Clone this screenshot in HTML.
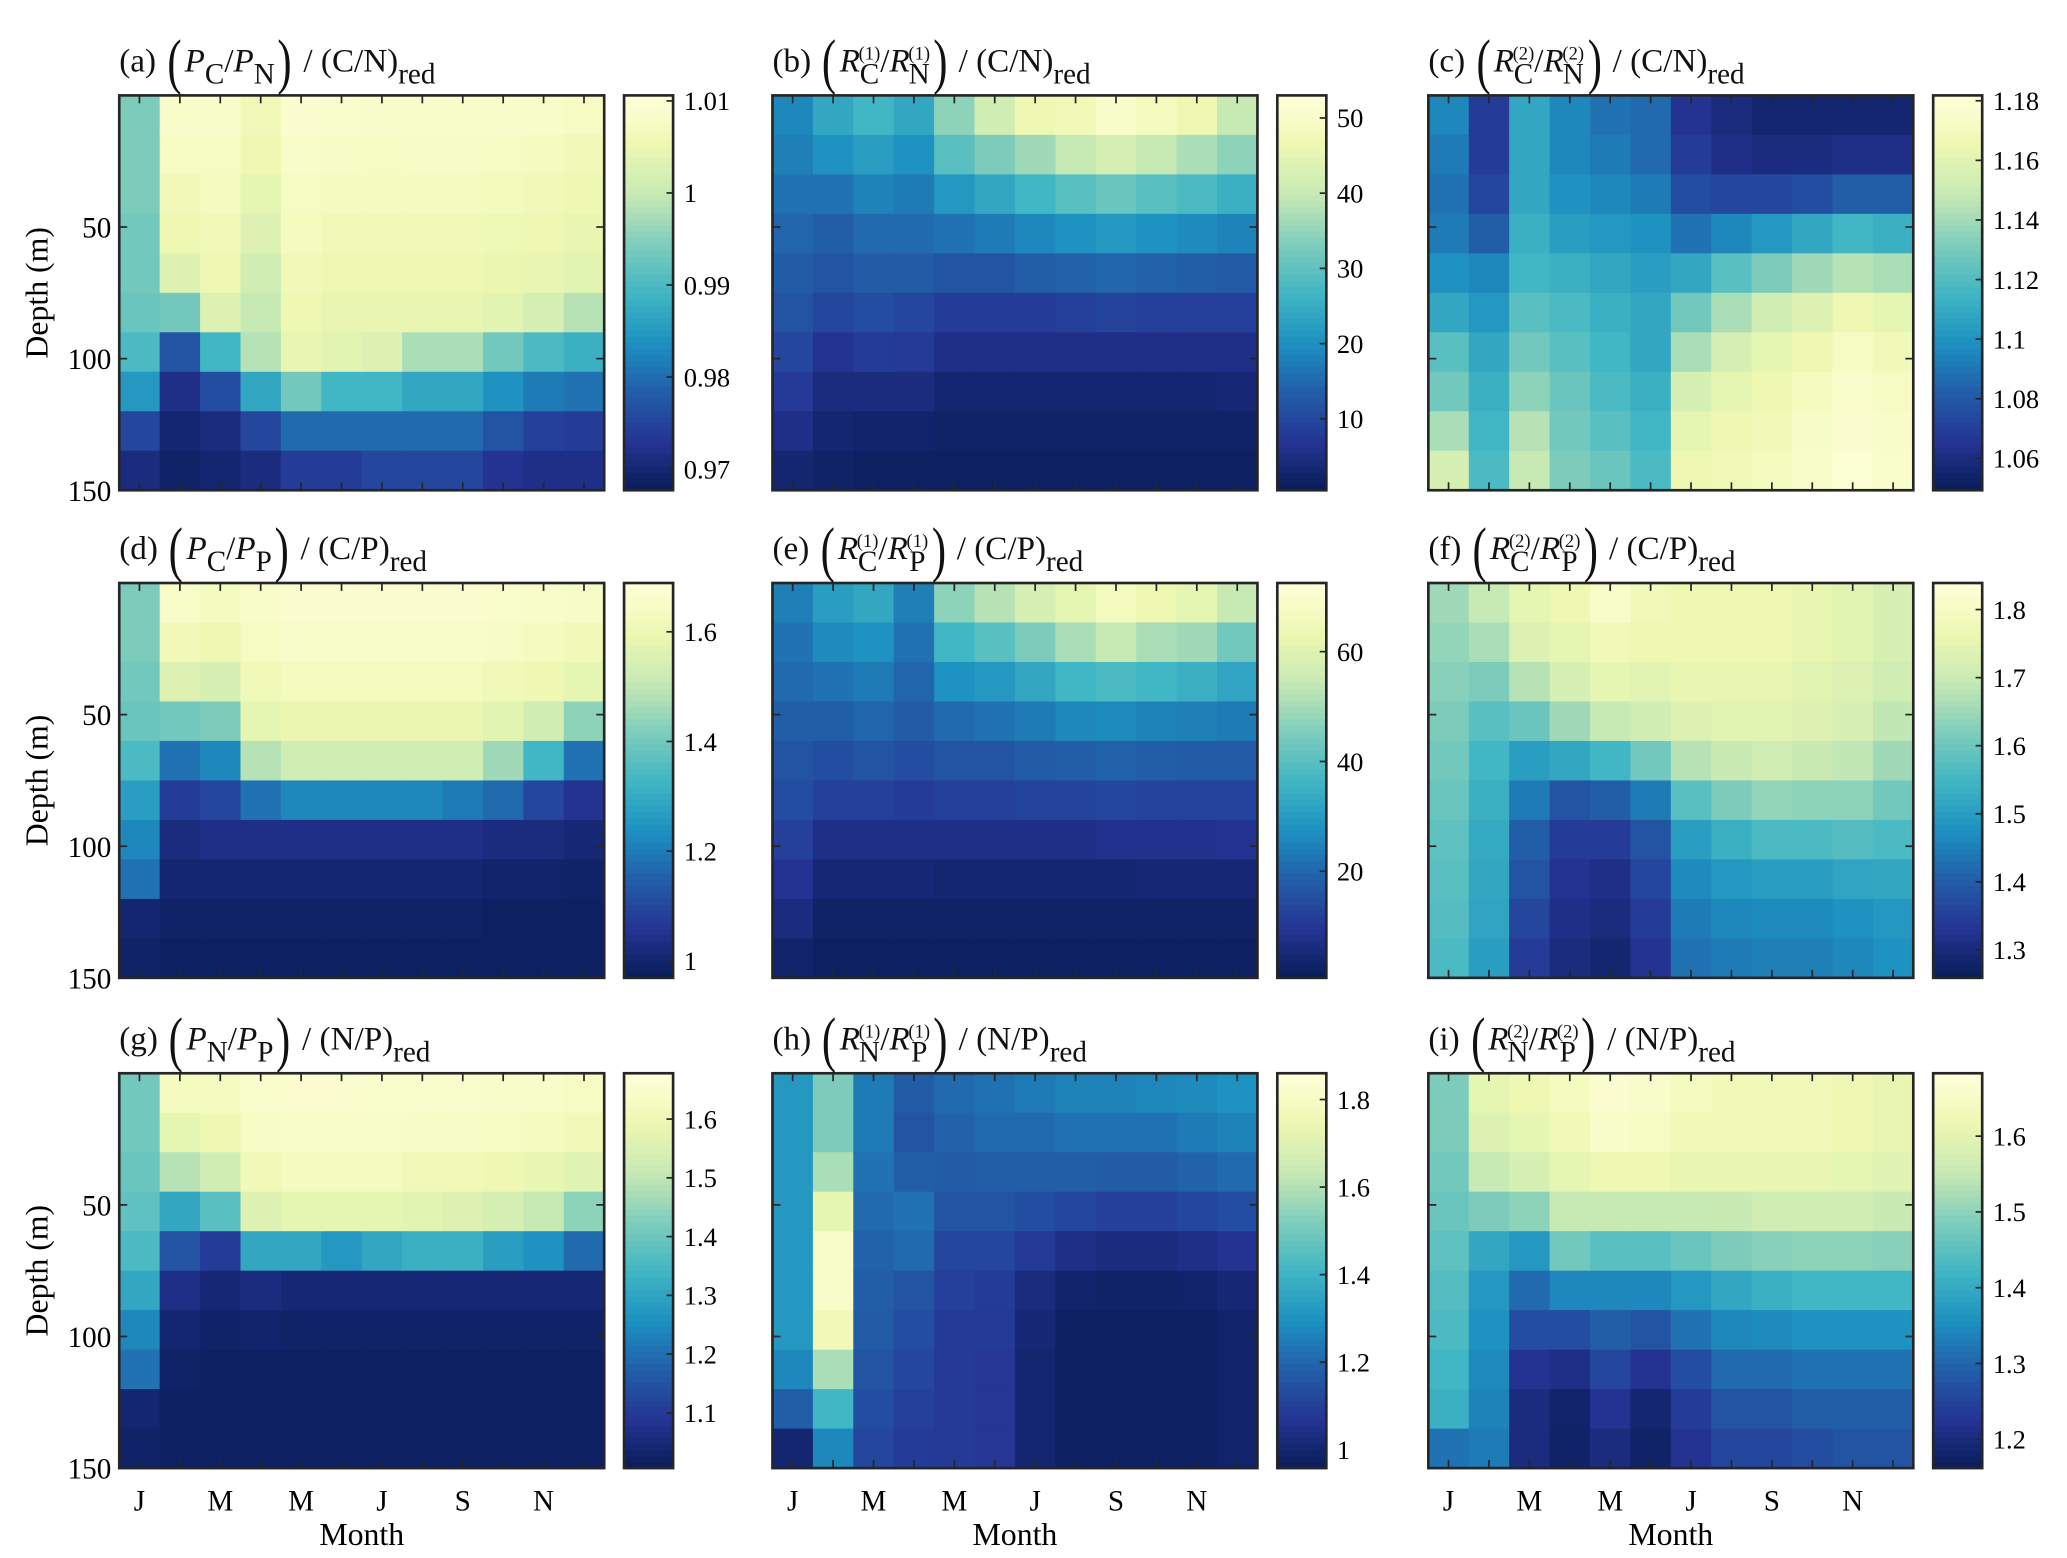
<!DOCTYPE html>
<html><head><meta charset="utf-8">
<style>
html,body{margin:0;padding:0;background:#fff;}
#stage{position:relative;width:1560px;height:1176px;transform:scale(1.325);transform-origin:0 0;font-family:"Liberation Serif",serif;color:#111;}
svg{position:absolute;left:0;top:0;}
.title{position:absolute;font-size:25px;white-space:nowrap;line-height:1;}
.big{font-size:46px;display:inline-block;transform:scaleX(0.7);vertical-align:-8px;}
.it{font-style:italic;}
.sb{font-size:22px;vertical-align:-9px;}
.stk{display:inline-block;vertical-align:-9px;line-height:1;margin-left:-1px;text-align:center;}
.stk .u{display:block;font-size:14px;line-height:15px;margin-bottom:-4px;}
.stk .d{display:block;font-size:22px;line-height:22px;}
</style></head>
<body>
<div id="stage">
<svg id="svg" width="1560" height="1176" viewBox="0 0 1560 1176"></svg>

<div class="title" style="left:90px;top:24px">(a) <span class="big">(</span><span class="it">P</span><span class="sb">C</span>/<span class="it">P</span><span class="sb">N</span><span class="big">)</span> / (C/N)<span class="sb">red</span></div>
<div class="title" style="left:583px;top:24px">(b) <span class="big">(</span><span class="it">R</span><span class="stk"><span class="u">(1)</span><span class="d">C</span></span>/<span class="it">R</span><span class="stk"><span class="u">(1)</span><span class="d">N</span></span><span class="big">)</span> / (C/N)<span class="sb">red</span></div>
<div class="title" style="left:1078px;top:24px">(c) <span class="big">(</span><span class="it">R</span><span class="stk"><span class="u">(2)</span><span class="d">C</span></span>/<span class="it">R</span><span class="stk"><span class="u">(2)</span><span class="d">N</span></span><span class="big">)</span> / (C/N)<span class="sb">red</span></div>

<div class="title" style="left:90px;top:392px">(d) <span class="big">(</span><span class="it">P</span><span class="sb">C</span>/<span class="it">P</span><span class="sb">P</span><span class="big">)</span> / (C/P)<span class="sb">red</span></div>
<div class="title" style="left:583px;top:392px">(e) <span class="big">(</span><span class="it">R</span><span class="stk"><span class="u">(1)</span><span class="d">C</span></span>/<span class="it">R</span><span class="stk"><span class="u">(1)</span><span class="d">P</span></span><span class="big">)</span> / (C/P)<span class="sb">red</span></div>
<div class="title" style="left:1078px;top:392px">(f) <span class="big">(</span><span class="it">R</span><span class="stk"><span class="u">(2)</span><span class="d">C</span></span>/<span class="it">R</span><span class="stk"><span class="u">(2)</span><span class="d">P</span></span><span class="big">)</span> / (C/P)<span class="sb">red</span></div>

<div class="title" style="left:90px;top:762px">(g) <span class="big">(</span><span class="it">P</span><span class="sb">N</span>/<span class="it">P</span><span class="sb">P</span><span class="big">)</span> / (N/P)<span class="sb">red</span></div>
<div class="title" style="left:583px;top:762px">(h) <span class="big">(</span><span class="it">R</span><span class="stk"><span class="u">(1)</span><span class="d">N</span></span>/<span class="it">R</span><span class="stk"><span class="u">(1)</span><span class="d">P</span></span><span class="big">)</span> / (N/P)<span class="sb">red</span></div>
<div class="title" style="left:1078px;top:762px">(i) <span class="big">(</span><span class="it">R</span><span class="stk"><span class="u">(2)</span><span class="d">N</span></span>/<span class="it">R</span><span class="stk"><span class="u">(2)</span><span class="d">P</span></span><span class="big">)</span> / (N/P)<span class="sb">red</span></div>
</div>

<script>
// Data: level (0-100 of colorbar range) per month column, depth rows top->bottom (15 m bins)
const months = ["J","F","M","A","M","J","J","A","S","O","N","D"];
const monthLabels = ["J","","M","","M","","J","","S","","N",""];
const depthTicks = [50,100,150];
const depthMax = 150;

const dataA = [
[62,62,62,60,60,58,52,40,18,8],[95,93,90,88,82,60,22,10,5,3],[95,93,92,90,88,82,50,20,8,5],
[90,88,85,82,78,75,72,45,18,8],[97,95,93,92,90,88,86,60,28,15],[96,94,92,90,88,86,84,50,28,15],
[95,93,92,90,88,86,82,50,28,18],[95,94,92,90,88,86,70,45,28,18],[95,94,92,90,88,86,70,45,28,18],
[95,93,91,89,87,84,60,38,22,12],[95,92,90,88,86,80,52,32,16,10],[93,90,88,86,84,72,48,30,15,10]];
const dataB = [
[35,33,30,27,24,22,18,14,10,5],[45,38,30,25,22,18,12,8,5,3],[50,42,34,28,24,20,15,8,4,2],
[45,38,32,28,24,18,14,8,4,2],[65,55,40,30,22,15,10,5,3,2],[78,62,45,32,22,15,10,5,3,2],
[88,68,50,35,25,15,10,5,3,2],[90,75,55,38,26,16,10,5,3,2],[95,80,58,40,27,17,10,5,3,2],
[92,75,55,38,26,16,10,5,3,2],[88,70,52,36,25,16,10,5,3,2],[75,65,48,34,24,16,10,6,3,2]];
const dataC = [
[35,32,30,32,38,45,55,60,70,80],[15,15,18,25,35,40,45,48,50,52],[45,45,45,48,50,55,60,65,72,75],
[35,35,38,42,48,52,55,58,60,62],[30,32,35,40,45,48,50,52,55,58],[28,28,32,38,42,45,45,48,50,52],
[12,15,20,30,45,60,70,80,85,88],[8,10,18,35,55,70,80,85,88,90],[5,8,18,40,62,78,85,88,90,92],
[5,8,20,45,68,82,88,92,94,95],[5,10,25,50,72,88,93,96,97,98],[5,10,25,48,70,85,90,93,95,96]];
const dataD = [
[62,62,60,58,52,42,35,30,5,3],[95,90,82,60,30,15,8,5,3,2],[92,88,80,62,35,18,10,5,3,2],
[95,93,90,85,72,30,10,5,3,2],[97,95,92,87,78,35,10,5,3,2],[97,95,92,87,78,35,10,5,3,2],
[97,95,92,87,78,35,10,5,3,2],[97,95,92,87,78,35,10,5,3,2],[97,95,92,87,78,32,10,5,3,2],
[96,94,90,84,68,28,8,4,2,2],[95,92,88,78,50,18,8,4,2,2],[94,90,85,65,30,12,6,3,2,2]];
const dataE = [
[33,30,28,25,22,20,16,12,8,4],[42,36,30,25,20,16,10,6,3,2],[45,38,32,27,22,16,10,6,3,2],
[33,30,27,24,20,15,10,6,3,2],[65,50,38,28,22,16,10,5,3,2],[72,55,40,30,22,16,10,5,3,2],
[80,62,45,32,24,17,10,5,3,2],[85,70,50,35,25,17,10,5,3,2],[92,75,52,36,26,18,11,5,3,2],
[88,70,50,34,25,17,11,6,3,2],[85,68,48,33,24,17,11,6,3,2],[75,60,44,32,24,17,12,6,3,2]];
const dataF = [
[68,66,64,62,60,58,56,55,54,52],[75,70,62,55,50,48,46,45,44,42],[85,82,72,58,42,32,25,22,18,15],
[88,85,80,68,45,22,15,12,10,8],[95,90,85,75,50,25,15,10,8,5],[90,88,84,78,60,32,22,18,15,12],
[88,88,86,82,72,55,42,36,32,30],[88,88,86,84,76,62,48,40,35,32],[88,88,86,84,78,66,52,42,36,33],
[86,86,84,82,76,65,52,42,36,33],[84,84,82,80,74,65,54,44,38,35],[80,80,78,74,68,60,52,45,40,38]];
const dataG = [
[60,60,58,56,52,45,35,30,5,3],[92,85,72,45,22,10,5,3,2,2],[92,88,78,55,15,6,3,2,2,2],
[96,94,90,82,45,8,4,2,2,2],[97,95,92,85,45,6,3,2,2,2],[97,95,92,85,40,6,3,2,2,2],
[96,95,92,85,45,6,3,2,2,2],[96,94,90,84,48,6,3,2,2,2],[96,94,90,82,48,6,3,2,2,2],
[95,93,88,80,42,6,3,2,2,2],[95,92,86,75,38,6,3,2,2,2],[93,90,83,65,28,6,3,2,2,2]];
const dataH = [
[40,40,40,40,40,40,40,35,25,5],[62,62,70,85,95,95,90,70,50,35],[32,32,30,28,26,25,24,22,20,18],
[24,22,25,30,28,22,20,18,16,15],[28,26,24,22,18,16,14,14,14,14],[30,28,25,22,18,15,14,13,13,13],
[32,28,25,20,14,8,6,5,5,5],[34,30,25,18,10,4,2,2,2,2],[34,30,24,16,8,3,2,2,2,2],
[35,30,24,16,8,3,2,2,2,2],[36,32,26,18,10,4,2,2,2,2],[38,34,28,20,12,6,4,4,4,4]];
const dataI = [
[62,62,60,58,56,54,52,50,48,30],[85,82,75,62,45,40,38,36,34,32],[88,85,80,65,40,28,20,12,8,8],
[92,90,85,75,60,35,20,10,4,3],[97,95,88,75,55,35,25,18,12,8],[95,93,88,75,55,35,22,12,5,3],
[92,90,86,75,58,40,30,20,15,12],[90,90,86,76,62,45,35,28,22,18],[90,90,86,78,64,48,36,28,22,18],
[90,90,86,78,65,50,38,30,25,20],[88,88,85,78,65,50,38,30,25,22],[86,86,83,76,64,50,38,30,25,22]];

// colorbar ranges and tick labels
const ranges = [[0.9677,1.0106],[0.5,53],[1.0493,1.1818],[0.969,1.689],[0.6,72.5],[1.259,1.839],[1.006,1.678],[0.958,1.86],[1.162,1.683]];
const cbTicksA=[1.01,1,0.99,0.98,0.97], cbLabelsA=["1.01","1","0.99","0.98","0.97"];
const cbTicksB=[50,40,30,20,10], cbLabelsB=["50","40","30","20","10"];
const cbTicksC=[1.18,1.16,1.14,1.12,1.1,1.08,1.06], cbLabelsC=["1.18","1.16","1.14","1.12","1.1","1.08","1.06"];
const cbTicksD=[1.6,1.4,1.2,1], cbLabelsD=["1.6","1.4","1.2","1"];
const cbTicksE=[60,40,20], cbLabelsE=["60","40","20"];
const cbTicksF=[1.8,1.7,1.6,1.5,1.4,1.3], cbLabelsF=["1.8","1.7","1.6","1.5","1.4","1.3"];
const cbTicksG=[1.6,1.5,1.4,1.3,1.2,1.1], cbLabelsG=["1.6","1.5","1.4","1.3","1.2","1.1"];
const cbTicksH=[1.8,1.6,1.4,1.2,1], cbLabelsH=["1.8","1.6","1.4","1.2","1"];
const cbTicksI=[1.6,1.5,1.4,1.3,1.2], cbLabelsI=["1.6","1.5","1.4","1.3","1.2"];

const NS="http://www.w3.org/2000/svg";
const svg=document.getElementById('svg');
const stops=[[0,[8,29,88]],[0.125,[37,52,148]],[0.25,[34,94,168]],[0.375,[29,145,192]],[0.5,[65,182,196]],[0.625,[127,205,187]],[0.75,[199,233,180]],[0.875,[237,248,177]],[1,[255,255,217]]];
function cmap(t){t=Math.max(0,Math.min(1,t));for(let i=1;i<stops.length;i++){if(t<=stops[i][0]){const a=stops[i-1],b=stops[i];const f=(t-a[0])/(b[0]-a[0]);const c=a[1].map((v,k)=>Math.round(v+(b[1][k]-v)*f));return `rgb(${c[0]},${c[1]},${c[2]})`;}}return 'rgb(255,255,217)';}
function mk(tag,attrs,parent){const e=document.createElementNS(NS,tag);for(const k in attrs)e.setAttribute(k,attrs[k]);(parent||svg).appendChild(e);return e;}

const colX=[90,583,1078], rowY=[72,440,810], W=366, H=298, CBW=37;
const panels=[
 [dataA,cbTicksA,cbLabelsA],[dataB,cbTicksB,cbLabelsB],[dataC,cbTicksC,cbLabelsC],
 [dataD,cbTicksD,cbLabelsD],[dataE,cbTicksE,cbLabelsE],[dataF,cbTicksF,cbLabelsF],
 [dataG,cbTicksG,cbLabelsG],[dataH,cbTicksH,cbLabelsH],[dataI,cbTicksI,cbLabelsI]];
const letters="abcdefghi";

panels.forEach((p,pi)=>{
  const [data,ticks,labels]=p;
  const x0=colX[pi%3], y0=rowY[Math.floor(pi/3)];
  const nC=data.length, nR=data[0].length;
  const xs=i=>x0+i*W/nC;
  const ys=d=>y0+d/depthMax*H;
  const g=mk('g',{});
  
  
  data.forEach((col,ci)=>{col.forEach((v,ri)=>{
    const dz=depthMax/nR;
    const r=mk('rect',{x:xs(ci),y:ys(ri*dz),width:W/nC+0.6,height:H/nR+0.6,fill:cmap(v/100)},g);
    
    
  });});
  const fr=mk('rect',{x:x0,y:y0,width:W,height:H,fill:'none',stroke:'#262626','stroke-width':2});
  
  
  months.forEach((m,i)=>{
    const cx=xs(i+0.5);
    mk('line',{x1:cx,x2:cx,y1:y0,y2:y0+6,stroke:'#262626','stroke-width':1.3});
    mk('line',{x1:cx,x2:cx,y1:y0+H,y2:y0+H-6,stroke:'#262626','stroke-width':1.3});
    if(pi>=6 && monthLabels[i]){
      const t=mk('text',{x:cx,y:y0+H+32,'font-size':22,'text-anchor':'middle'});t.textContent=monthLabels[i];
      
      
    }
  });
  depthTicks.forEach(d=>{
    const y=ys(d);
    mk('line',{x1:x0,x2:x0+6,y1:y,y2:y,stroke:'#262626','stroke-width':1.3});
    mk('line',{x1:x0+W,x2:x0+W-6,y1:y,y2:y,stroke:'#262626','stroke-width':1.3});
    if(pi%3===0){
      const t=mk('text',{x:x0-6,y:y+8,'font-size':22,'text-anchor':'end'});t.textContent=String(d);
      
      
    }
  });
  if(pi%3===0){
    const t=mk('text',{x:0,y:0,'font-size':24,'text-anchor':'middle',transform:`translate(36,${y0+H/2}) rotate(-90)`});t.textContent='Depth (m)';
    
    
  }
  if(pi>=6){
    const t=mk('text',{x:x0+W/2,y:y0+H+58,'font-size':24,'text-anchor':'middle'});t.textContent='Month';
    
    
  }
  const [vmin,vmax]=ranges[pi];
  const cbx=x0+W+15;
  const cg=mk('g',{});
  
  
  const N=64;
  for(let k=0;k<N;k++){
    mk('rect',{x:cbx,y:y0+H-(k+1)*H/N,width:CBW,height:H/N+0.6,fill:cmap((k+0.5)/N)},cg);
  }
  mk('rect',{x:cbx,y:y0,width:CBW,height:H,fill:'none',stroke:'#262626','stroke-width':2},cg);
  const vy=v=>y0+H-(v-vmin)/(vmax-vmin)*H;
  ticks.forEach((v,k)=>{
    const y=vy(v);
    mk('line',{x1:cbx+CBW,x2:cbx+CBW-5,y1:y,y2:y,stroke:'#262626','stroke-width':1.3},cg);
    const t=mk('text',{x:cbx+CBW+8,y:y+7,'font-size':20},cg);t.textContent=labels[k];
    
    
  });
});
</script>
</body></html>
